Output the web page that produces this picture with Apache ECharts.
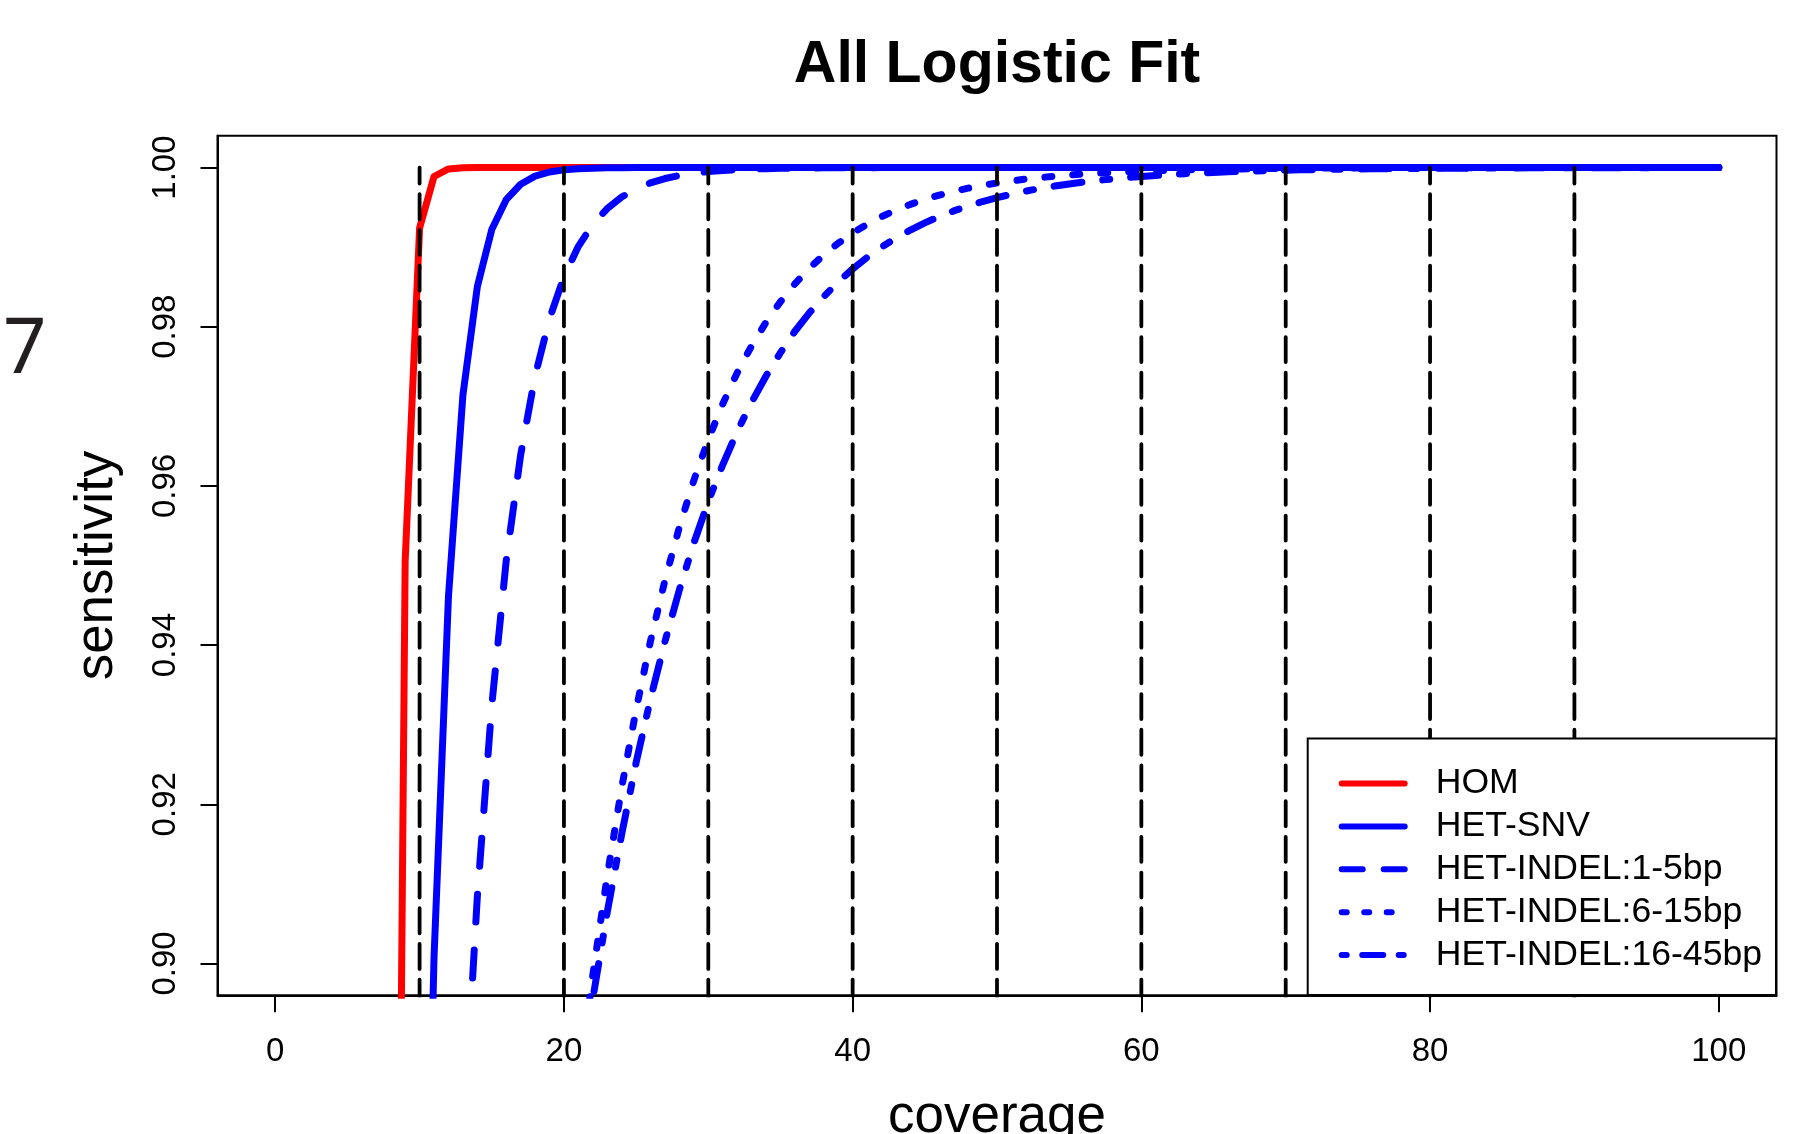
<!DOCTYPE html>
<html>
<head>
<meta charset="utf-8">
<script src="https://cdn.jsdelivr.net/npm/echarts@6/dist/echarts.min.js"></script>
<style>
html,body{margin:0;padding:0;background:#ffffff;}
#chart{width:1815px;height:1134px;}
</style>
</head>
<body>
<div id="chart"></div>
<script>
// ---------------- DATA ----------------
const coverage = [
  0,1,2,3,4,5,6,7,8,9,
  10,11,12,13,14,15,16,17,18,19,
  20,21,22,23,24,25,26,27,28,29,
  30,31,32,33,34,35,36,37,38,39,
  40,41,42,43,44,45,46,47,48,49,
  50,51,52,53,54,55,56,57,58,59,
  60,61,62,63,64,65,66,67,68,69,
  70,71,72,73,74,75,76,77,78,79,
  80,81,82,83,84,85,86,87,88,89,
  90,91,92,93,94,95,96,97,98,99,
  100
];

const hom = [
  null,null,null,null,null,null,null,null,0.739,0.9505,
  0.9924,0.99887,0.99983,0.99998,1,1,1,1,1,1,
  1,1,1,1,1,1,1,1,1,1,
  1,1,1,1,1,1,1,1,1,1,
  1,1,1,1,1,1,1,1,1,1,
  1,1,1,1,1,1,1,1,1,1,
  1,1,1,1,1,1,1,1,1,1,
  1,1,1,1,1,1,1,1,1,1,
  1,1,1,1,1,1,1,1,1,1,
  1,1,1,1,1,1,1,1,1,1,
  1
];

const hetSnv = [
  null,null,null,null,null,null,null,null,null,null,
  0.8243,0.9008,0.9461,0.9714,0.98503,0.99221,0.99596,0.9979,0.99892,0.99944,
  0.99971,0.99985,0.99992,0.99996,0.99998,1,1,1,1,1,
  1,1,1,1,1,1,1,1,1,1,
  1,1,1,1,1,1,1,1,1,1,
  1,1,1,1,1,1,1,1,1,1,
  1,1,1,1,1,1,1,1,1,1,
  1,1,1,1,1,1,1,1,1,1,
  1,1,1,1,1,1,1,1,1,1,
  1,1,1,1,1,1,1,1,1,1,
  1
];

const hetIndel1to5 = [
  null,null,null,null,null,null,null,null,null,null,
  null,null,null,0.8771,0.9084,0.9324,0.9506,0.9639,0.9738,0.9810,
  0.98627,0.9901,0.99287,0.99485,0.99629,0.99733,0.99808,0.99862,0.99901,0.99929,
  0.99949,0.99963,0.99974,0.99981,0.99986,0.9999,0.99993,0.99995,0.99996,0.99997,
  0.99998,0.99998,0.99999,0.99999,0.99999,1,1,1,1,1,
  1,1,1,1,1,1,1,1,1,1,
  1,1,1,1,1,1,1,1,1,1,
  1,1,1,1,1,1,1,1,1,1,
  1,1,1,1,1,1,1,1,1,1,
  1,1,1,1,1,1,1,1,1,1,
  1
];

const hetIndel6to15 = [
  null,null,null,null,null,null,null,null,null,null,
  null,null,null,null,null,null,null,null,null,null,
  null,0.88449,0.89855,0.91101,0.92209,0.9319,0.94054,0.94816,0.95484,0.9607,
  0.96582,0.9703,0.9742,0.9776,0.98057,0.98315,0.98539,0.98734,0.98903,0.99049,
  0.99177,0.99287,0.99383,0.99466,0.99537,0.996,0.99653,0.997,0.99741,0.99776,
  0.99806,0.99832,0.99855,0.99874,0.99891,0.99906,0.99918,0.9993,0.99939,0.99947,
  0.99954,0.9996,0.99966,0.9997,0.99974,0.99978,0.99981,0.99983,0.99986,0.99988,
  0.99989,0.99991,0.99992,0.99993,0.99994,0.99995,0.99996,0.99996,0.99997,0.99997,
  0.99998,0.99998,0.99998,0.99998,0.99999,0.99999,0.99999,0.99999,0.99999,0.99999,
  1,1,1,1,1,1,1,1,1,1,
  1
];

const hetIndel16to45 = [
  null,null,null,null,null,null,null,null,null,null,
  null,null,null,null,null,null,null,null,null,null,
  null,0.88347,0.89556,0.90645,0.91625,0.92524,0.93327,0.94047,0.94697,0.95283,
  0.95804,0.96265,0.96684,0.9705,0.97381,0.97675,0.97943,0.98174,0.98378,0.98563,
  0.98726,0.98871,0.99,0.99114,0.99215,0.99305,0.99385,0.99455,0.99517,0.99573,
  0.99621,0.99665,0.99704,0.99738,0.99768,0.99794,0.99818,0.99839,0.99857,0.99874,
  0.99888,0.99901,0.99912,0.99923,0.99931,0.99939,0.99946,0.99953,0.99958,0.99963,
  0.99967,0.99971,0.99974,0.99977,0.9998,0.99982,0.99984,0.99986,0.99988,0.99989,
  0.9999,0.99991,0.99992,0.99993,0.99994,0.99995,0.99995,0.99996,0.99996,0.99997,
  0.99997,0.99998,0.99998,0.99998,0.99998,0.99998,0.99999,0.99999,0.99999,0.99999,
  0.99999
];

// vertical reference lines (coverage thresholds), drawn from sensitivity 1.00 downwards
const refCoverage = [10, 20, 30, 40, 50, 60, 70, 80, 90];
const refTop = 1.0;
const refBottom = 0.85;

const seriesNames = ['HOM', 'HET-SNV', 'HET-INDEL:1-5bp', 'HET-INDEL:6-15bp', 'HET-INDEL:16-45bp'];
const xTicks = [0, 20, 40, 60, 80, 100];
const yTicks = [0.90, 0.92, 0.94, 0.96, 0.98, 1.00];
const titleText = 'All Logistic Fit';
const xTitle = 'coverage';
const yTitle = 'sensitivity';
const sideMark = '7';

// ---------------- CHART ----------------
const FONT = '"Liberation Sans", Arial, Helvetica, sans-serif';
const chart = echarts.init(document.getElementById('chart'), null, {renderer: 'canvas', width: 1815, height: 1134});

const curveValues = [hom, hetSnv, hetIndel1to5, hetIndel6to15, hetIndel16to45];
const curveColors = ['#ff0000', '#0000ff', '#0000ff', '#0000ff', '#0000ff'];
const curveDash = ['solid', 'solid', [28, 28], [7, 21], [7, 21, 28, 21]];
const legendDash = ['solid', 'solid', [21, 21], [5, 17.5], [5, 15.5, 21, 15.5]];

const series = [];
curveValues.forEach((vals, k) => {
  series.push({
    name: seriesNames[k],
    type: 'line',
    data: coverage.map((c, i) => [c, vals[i]]),
    symbol: 'none',
    showSymbol: false,
    connectNulls: false,
    clip: true,
    silent: true,
    lineStyle: {color: curveColors[k], width: 7, type: curveDash[k], cap: 'round', join: 'round'},
    itemStyle: {color: curveColors[k]},
    emphasis: {disabled: true},
    z: 2 + k
  });
});
refCoverage.forEach((c) => {
  series.push({
    name: 'ref' + c,
    type: 'line',
    data: [[c, refTop], [c, refBottom]],
    symbol: 'none',
    showSymbol: false,
    clip: true,
    silent: true,
    lineStyle: {color: '#000000', width: 3.8, type: [25, 10.7], dashOffset: 9, cap: 'round'},
    emphasis: {disabled: true},
    z: 10
  });
});

const axisLineStyle = {show: true, onZero: false, lineStyle: {color: '#000000', width: 2}};

const option = {
  animation: false,
  backgroundColor: '#ffffff',
  textStyle: {fontFamily: FONT},
  grid: {
    left: 217.5, top: 135.7, right: 38.5, bottom: 138.7,
    show: true, borderColor: '#000000', borderWidth: 2, backgroundColor: 'transparent',
    containLabel: false,
    outerBoundsMode: 'none'
  },
  graphic: [
    {
      type: 'text', x: 997, y: 65.3, z: 100,
      style: {text: titleText, fontFamily: FONT, fontWeight: 'bold', fontSize: 59,
              fill: '#000000', align: 'center', verticalAlign: 'middle'}
    },
    {
      type: 'text', x: 3, y: 351, z: 100,
      style: {text: sideMark, fontFamily: '"Noto Sans", sans-serif', fontSize: 76,
              fill: '#231f20', align: 'left', verticalAlign: 'middle'}
    }
  ],
  legend: {
    data: seriesNames.map((n, k) => ({
      name: n,
      lineStyle: {width: 6, type: legendDash[k], cap: 'round', color: curveColors[k]}
    })),
    orient: 'vertical',
    right: 39, bottom: 139,
    padding: [27, 14, 22, 31],
    itemWidth: 63, itemHeight: 36, itemGap: 6.85,
    backgroundColor: '#ffffff', borderColor: '#000000', borderWidth: 2, borderRadius: 0,
    selectedMode: false,
    itemStyle: {opacity: 0},
    textStyle: {fontFamily: FONT, fontSize: 35.6, color: '#000000', padding: [0, 0, 0, 26], lineHeight: 36},
    z: 20
  },
  xAxis: {
    type: 'value', min: -4, max: 104,
    name: xTitle, nameLocation: 'middle', nameGap: 96,
    nameTextStyle: {fontFamily: FONT, fontSize: 53, color: '#000000'},
    axisLine: axisLineStyle,
    splitLine: {show: false},
    axisTick: {show: true, inside: false, length: 17, lineStyle: {color: '#000000', width: 2}, customValues: xTicks},
    axisLabel: {show: true, customValues: xTicks, margin: 40, fontFamily: FONT, fontSize: 33, color: '#000000',
                formatter: (v) => String(v)}
  },
  yAxis: {
    type: 'value', min: 0.896, max: 1.004,
    name: yTitle, nameLocation: 'middle', nameRotate: 90, nameGap: 94,
    nameTextStyle: {fontFamily: FONT, fontSize: 53, color: '#000000'},
    axisLine: axisLineStyle,
    splitLine: {show: false},
    axisTick: {show: true, inside: false, length: 17, lineStyle: {color: '#000000', width: 2}, customValues: yTicks},
    axisLabel: {show: true, customValues: yTicks, rotate: 90, margin: 35, fontFamily: FONT, fontSize: 33, color: '#000000',
                formatter: (v) => Number(v).toFixed(2)}
  },
  series: series
};
chart.setOption(option);
</script>
</body>
</html>
